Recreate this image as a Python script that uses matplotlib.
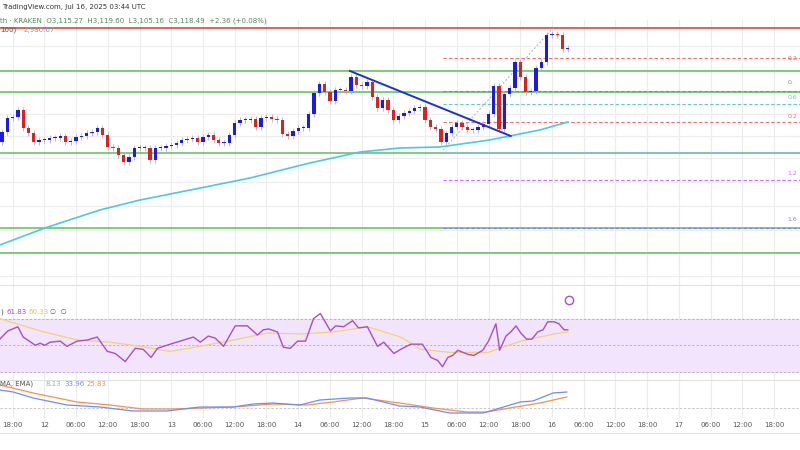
import matplotlib
matplotlib.use("Agg")
import matplotlib.pyplot as plt
import numpy as np

# ---- data ----
closes = [3018,3032,3033,3040,3022,3017,3008,3010,3010,3012,3012,3014,3008,3009,3013,3014,3017,3018,3022,3015,
          3003,3002,2995,2988,2993,3002,3002,3002,2990,3002,3002,3004,3005,3007,3010,3011,3012,3008,3013,3015,
          3010,3007,3007,3015,3027,3030,3030,3031,3023,3032,3033,3031,3030,3016,3014,3019,3022,3022,3036,3057,
          3066,3058,3049,3060,3060,3059,3073,3065,3064,3068,3053,3042,3050,3040,3030,3034,3037,3039,3042,3043,
          3030,3023,3021,3008,3017,3023,3027,3023,3020,3020,3023,3026,3036,3064,3021,3056,3062,3088,3073,3058,
          3059,3082,3088,3115,3116,3115,3101,3102]
first_open = 3008
ma_idx = [-0.4, 8.1, 18.5, 26.1, 37.5, 46.9, 58.2, 67.7, 75.2, 82.8, 92.2, 96.0, 101.7, 107.0]
ma_val = [2905, 2922, 2940, 2950, 2962, 2972, 2987, 2998, 3002, 3003, 3010, 3014, 3020, 3028]
hlines_green = [3079, 3058, 2997, 2922, 2897]
resist_red = 3122
fib_levels = [3092, 3059, 3046, 3028, 2998, 2970, 2922]
fib_colors = ["#f07070", "#a08080", "#60c8c0", "#f07070", "#80c0e0", "#c070e0", "#8080e0"]
fib_labels = ["0.2", "0.", "0.6", "0.2", "", "1.2", "1.6"]
fib_label_price = [3092, 3067, 3052, 3033, 0, 2976, 2930]
trend_idx = [65.8, 96.2]; trend_val = [3079, 3014]
diag_idx = [83.4, 104.2]; diag_val = [3000, 3122]

rsi_idx = [-0.4,1.1,3.0,4.0,6.3,7.2,8.1,9.1,11.0,12.3,14.2,16.1,18.0,19.9,21.4,23.3,25.2,26.7,28.2,29.4,31.8,33.7,36.2,37.5,
           39.0,40.3,41.9,44.1,46.4,48.3,49.4,50.4,52.1,53.2,54.5,55.9,57.4,58.9,60.2,62.1,63.1,64.6,66.3,67.4,69.1,71.0,72.2,
           74.1,75.4,77.3,79.5,81.1,82.4,83.3,84.3,85.2,86.2,88.1,89.2,90.9,92.0,93.4,94.1,95.3,96.2,97.2,98.1,99.2,100.2,
           101.3,102.3,103.2,104.4,105.3,106.3,107.0]
rsi_val = [54.6,60.8,63.9,56.2,50,51.5,50,52.3,53.1,49.2,53.1,53.9,56.2,45.4,43.8,37.7,47.7,46.9,40.8,47.7,50.8,53.1,56.2,52.3,
           56.9,55.4,49.2,64.6,64.6,57.7,61.6,62.3,60,48.5,47.7,53.1,53.1,70,73.9,60.8,64.6,63.9,68.5,63.1,63.9,49.2,52.3,
           43.8,46.9,50.8,50.8,40.8,38.5,33.8,40.8,42.3,46.2,43.1,42.3,46.2,53.1,66.2,46.2,56.9,60,64.6,59.2,54.6,54.6,
           60,61.6,67.7,67.7,66.2,61.6,61.6]
rsima_idx = [-0.4,7.2,14.2,20.4,26.1,31.8,37.5,43.7,50.2,56.4,62.7,69.1,75.4,79.2,84.8,91.9,98.1,104.4,107]
rsima_val = [70,60.8,53.9,52.3,49.2,45.4,49.2,53.9,59.2,58.5,60,63.9,56.2,46.9,44.6,44.6,53.1,58.5,60]
macd_idx = [-0.4,2.1,5.9,12.3,18.5,24.8,31.2,37.4,43.7,47.5,51.2,56.3,60.1,65.8,69.0,75.2,79.0,84.7,91.0,94.2,98.0,100.4,104.2,106.8]
macd_val = [18,16,10,3,1,-3,-3,1,1,4,5,3,8,10,10,2,1,-5,-5,0,6,7,15,16]
sig_idx = [-0.4,5.9,14.2,20.4,26.7,32.3,43.7,51.2,57.7,62.6,68.2,75.2,81.5,87.9,91.7,96.0,101.7,106.8]
sig_val = [23,15,6,3,-1,-1,1,4,3,6,10,5,0,-4,-4,0,5,11]
tick_labels = ["18:00","12","06:00","12:00","18:00","13","06:00","12:00","18:00","14","06:00","12:00","18:00",
               "15","06:00","12:00","18:00","16","06:00","12:00","18:00","17","06:00","12:00","18:00"]

# ---- figure ----
fig = plt.figure(figsize=(8, 4.5), dpi=100)
XL = (-0.38, 150.9)
ax = fig.add_axes([0, 165/450, 1, 265/450])
ar = fig.add_axes([0, 70/450, 1, 95/450])
am = fig.add_axes([0, 32/450, 1, 38/450])
ticks = [2 + 6*k for k in range(len(tick_labels))]
for a in (ax, ar, am):
    a.set_xlim(*XL)
    for s in a.spines.values():
        s.set_visible(False)
    a.set_yticks([])
    a.set_xticks([])
    for t in ticks:
        a.axvline(t, color="#ececec", lw=0.8, zorder=0)

ax.set_ylim(2865, 3130)
for y in [3104, 3080, 3058, 3036, 3014, 2992, 2968, 2944, 2920, 2898, 2874]:
    ax.axhline(y, color="#ececec", lw=0.8, zorder=0)

opens = [first_open] + closes[:-1]
for i, (o, c) in enumerate(zip(opens, closes)):
    col = "#1c1ce0" if c >= o else "#e02020"
    ax.vlines(i, min(o, c) - 3, max(o, c) + 3, color="#b0b0c0", lw=0.6, zorder=2)
    ax.bar(i, max(abs(c - o), 1.2), bottom=min(o, c), width=0.62, color=col, zorder=3)

ax.plot(ma_idx, ma_val, color="#4cc8e0", lw=1.2, zorder=2)
for g in hlines_green:
    ax.axhline(g, color="#5cbf5c", lw=1.1, zorder=1)
ax.axhline(resist_red, color="#e83030", lw=1.1, zorder=1)
for lv, cl, lb, lp in zip(fib_levels, fib_colors, fib_labels, fib_label_price):
    ax.hlines(lv, 83.4, XL[1], colors=cl, lw=0.8, linestyles=(0, (3, 2)), zorder=1)
    if lb:
        ax.text(148.6, lp, lb, fontsize=4.5, color=cl, ha="left", va="center")
ax.plot(trend_idx, trend_val, color="#2030d0", lw=1.4, zorder=4)
ax.plot(diag_idx, diag_val, color="#b0b0b0", lw=0.7, ls=(0, (2, 2)), zorder=1)

ar.set_ylim(23.8, 95.4)
ar.axhspan(30, 70, color="#f1e4fc", zorder=0)
for lv in (70, 50, 30):
    ar.axhline(lv, color="#b8a8c8", lw=0.6, ls=(0, (3, 2)))
ar.plot(rsima_idx, rsima_val, color="#f5d26e", lw=0.9)
ar.plot(rsi_idx, rsi_val, color="#a64fc7", lw=1.0)
ar.plot([107.2], [84], marker="o", ms=6, mfc="none", mec="#a64fc7", mew=1.0)
ar.axhline(95.2, color="#e0e0e0", lw=0.8)

am.set_ylim(-10, 28)
am.axhline(0, color="#c0c0c0", lw=0.6, ls=(0, (3, 2)))
am.plot(sig_idx, sig_val, color="#f5924a", lw=0.9)
am.plot(macd_idx, macd_val, color="#6f8cf5", lw=0.9)
am.axhline(27.8, color="#e0e0e0", lw=0.8)
am.axhline(-9.8, color="#e0e0e0", lw=0.8)

for t, l in zip(ticks, tick_labels):
    x = (t - XL[0]) / (XL[1] - XL[0])
    fig.text(x, 1 - 425/450, l, fontsize=5, color="#555555", ha="center", va="center")
fig.add_artist(plt.Line2D([0, 1], [1 - 433/450] * 2, color="#e0e0e0", lw=0.8))

fig.text(0.003, 1 - 7/450, "TradingView.com, Jul 16, 2025 03:44 UTC", fontsize=5, color="#333333", va="center")
fig.text(0.0, 1 - 21/450, "th · KRAKEN  O3,115.27  H3,119.60  L3,105.16  C3,118.49  +2.36 (+0.08%)",
         fontsize=5, color="#4a8a60", va="center")
fig.text(0.0, 1 - 30/450, "100)", fontsize=5, color="#555555", va="center")
fig.text(0.03, 1 - 30/450, "2,986.67", fontsize=5, color="#3cb8d8", va="center")
fig.text(0.0, 1 - 312/450, ")", fontsize=5, color="#555555", va="center")
fig.text(0.008, 1 - 312/450, "61.83", fontsize=5, color="#a64fc7", va="center")
fig.text(0.035, 1 - 312/450, "60.33", fontsize=5, color="#e8c050", va="center")
fig.text(0.063, 1 - 312/450, "∅  ∅", fontsize=5, color="#555555", va="center")
fig.text(0.0, 1 - 384/450, "MA, EMA)", fontsize=5, color="#555555", va="center")
fig.text(0.057, 1 - 384/450, "8.13", fontsize=5, color="#5cc8c0", va="center")
fig.text(0.08, 1 - 384/450, "33.96", fontsize=5, color="#6f8cf5", va="center")
fig.text(0.108, 1 - 384/450, "25.83", fontsize=5, color="#f5924a", va="center")

fig.savefig("out.png", dpi=100, facecolor="white")
